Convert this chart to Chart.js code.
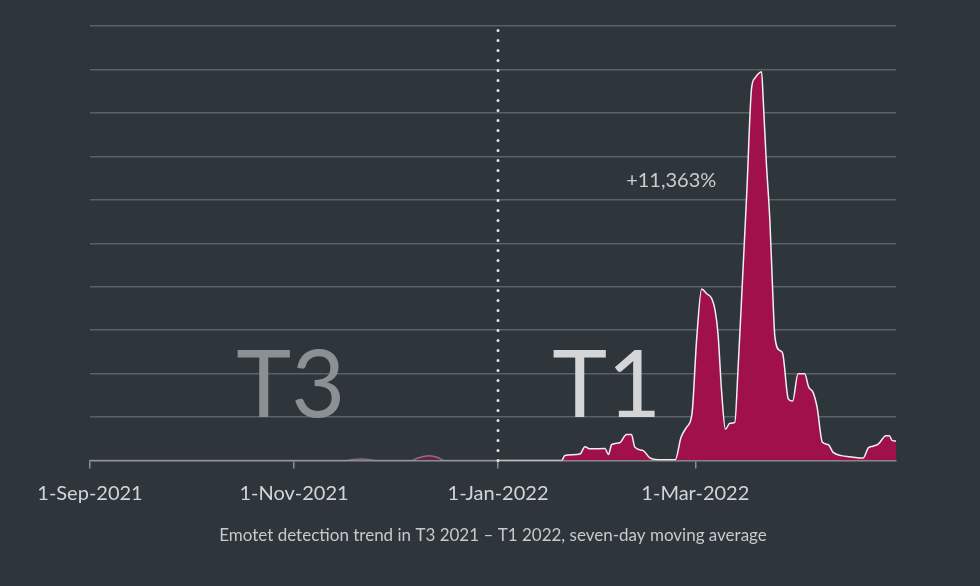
<!DOCTYPE html>
<html><head><meta charset="utf-8">
<script src="https://cdn.jsdelivr.net/npm/chart.js@4.4.0/dist/chart.umd.min.js"></script>
<style>html,body{margin:0;padding:0;background:#2e353b;overflow:hidden}#wrap{width:980px;height:586px}</style>
</head><body><div id="wrap"><canvas id="c" width="980" height="586"></canvas></div>
<script>
// ---- data (days since 1-Sep-2021) ----
const tickDays = [0, 61, 122, 181];
const tickLabels = ['1-Sep-2021', '1-Nov-2021', '1-Jan-2022', '1-Mar-2022'];
const totalDays = 241;
const dividerDay = 122;
const t3Days   = [0, 76, 78, 81, 84, 86, 96, 98, 100, 101.5, 104, 106, 122];
const t3Values = [0, 0, 0.2, 0.35, 0.2, 0, 0, 0.6, 1.0, 1.1, 0.7, 0, 0];
const t1Days   = [122, 141, 142, 146.5, 148, 149.5, 154, 155, 156, 158.4, 160.4, 161.9, 162.9, 165.4, 167.4, 169.8, 175, 176.7, 178.4, 180, 181.4, 182.9, 184.4, 185.9, 186.9, 187.8, 188.9, 190, 191.3, 192.8, 193.7, 195.1, 196.4, 197.8, 198.8, 200.8, 201.3, 202.2, 203.3, 204, 204.8, 206.3, 207.1, 208.8, 210.1, 211.7, 213.7, 214.9, 216.2, 217.4, 219, 220.7, 222.2, 224.7, 227.2, 231.2, 232.7, 234.1, 235.7, 238, 239, 239.9, 241];
const t1Values = [0, 0, 1.15, 1.5, 3.2, 2.7, 2.8, 1.4, 3.7, 4.1, 6.0, 6.0, 3.1, 2.3, 0.6, 0.2, 0.2, 5.3, 7.7, 10.8, 28, 39.5, 38.4, 37.3, 34.6, 29, 15.4, 7.2, 8.6, 8.8, 20, 41.5, 62, 85.6, 88, 89.5, 83, 69, 55, 41.5, 28.4, 25.3, 24.7, 14.2, 13.7, 20, 20, 16.9, 15.7, 12.3, 4.2, 3.7, 1.9, 1.15, 0.9, 0.6, 2.9, 3.3, 3.8, 5.7, 5.7, 4.6, 4.5];
const periodLabels = ['T3', 'T1'];
const periodLabelDays = [60, 154.5];
const growthLabel = '+11,363%';
const caption = 'Emotet detection trend in T3 2021 \u2013 T1 2022, seven-day moving average';

const pts = (xs, ys) => xs.map((x, i) => ({x, y: ys[i]}));
const FONT = 'Lato, "Open Sans", sans-serif';

const overlay = {
  id: 'overlay',
  beforeDatasetsDraw(chart) {
    const {ctx, scales: {x, y}} = chart;
    ctx.save();
    ctx.font = '93px ' + FONT;
    ctx.textAlign = 'center';
    ctx.textBaseline = 'alphabetic';
    ctx.fillStyle = '#8c9095';
    ctx.fillText(periodLabels[0], x.getPixelForValue(periodLabelDays[0]), y.getPixelForValue(10) - 0.5);
    ctx.fillStyle = '#d3d5d7';
    ctx.fillText(periodLabels[1], x.getPixelForValue(periodLabelDays[1]), y.getPixelForValue(10) - 0.5);
    ctx.font = '20px ' + FONT;
    ctx.fillStyle = '#c9cdd0';
    ctx.textBaseline = 'middle';
    ctx.fillText(growthLabel, x.getPixelForValue(173.8), y.getPixelForValue(64.5));
    ctx.restore();
  },
  afterDatasetsDraw(chart) {
    const {ctx, scales: {x, y}} = chart;
    const px = Math.round(x.getPixelForValue(dividerDay));
    ctx.save();
    ctx.strokeStyle = '#e6e8ea';
    ctx.lineWidth = 3;
    ctx.lineCap = 'round';
    ctx.setLineDash([0, 10]);
    ctx.beginPath();
    ctx.moveTo(px, y.getPixelForValue(0));
    ctx.lineTo(px, y.getPixelForValue(100));
    ctx.stroke();
    ctx.restore();
  }
};

new Chart(document.getElementById('c'), {
  type: 'line',
  data: {
    datasets: [
      { data: pts(t3Days, t3Values), fill: 'origin', backgroundColor: 'rgba(165,20,80,0.45)',
        borderColor: 'rgba(190,170,185,0.55)', borderWidth: 1.5, pointRadius: 0, cubicInterpolationMode: 'monotone' },
      { data: pts(t1Days, t1Values), fill: 'origin', backgroundColor: '#a0104a',
        borderColor: '#f3eef0', borderWidth: 1.5, pointRadius: 0, cubicInterpolationMode: 'monotone' }
    ]
  },
  options: {
    responsive: false,
    animation: false,
    devicePixelRatio: 1,
    layout: { padding: { left: 90, right: 84, top: 26, bottom: 40 } },
    plugins: {
      legend: { display: false },
      tooltip: { enabled: false },
      title: {
        display: true, position: 'bottom', text: caption, color: '#c6cacd',
        font: { family: FONT, size: 17, weight: 'normal' }, padding: { top: 7, bottom: 0 }
      }
    },
    scales: {
      x: {
        type: 'linear', min: 0, max: totalDays,
        afterBuildTicks: (s) => { s.ticks = tickDays.map(v => ({value: v})); },
        ticks: {
          autoSkip: false, maxRotation: 0, padding: 13, color: '#d2d5d8',
          font: { family: FONT, size: 20 },
          callback: (v) => tickLabels[tickDays.indexOf(v)]
        },
        grid: { drawOnChartArea: false, drawTicks: true, tickLength: 8, color: '#8a8f94', lineWidth: 1.5 },
        border: { display: true, color: '#8a8f94', width: 1.5 }
      },
      y: {
        min: 0, max: 100,
        ticks: { display: false, stepSize: 10 },
        grid: { color: (c) => c.tick.value === 0 ? 'rgba(0,0,0,0)' : '#5b6267', lineWidth: 1.5, drawTicks: false },
        border: { display: false }
      }
    }
  },
  plugins: [overlay]
});
</script>
</body></html>
